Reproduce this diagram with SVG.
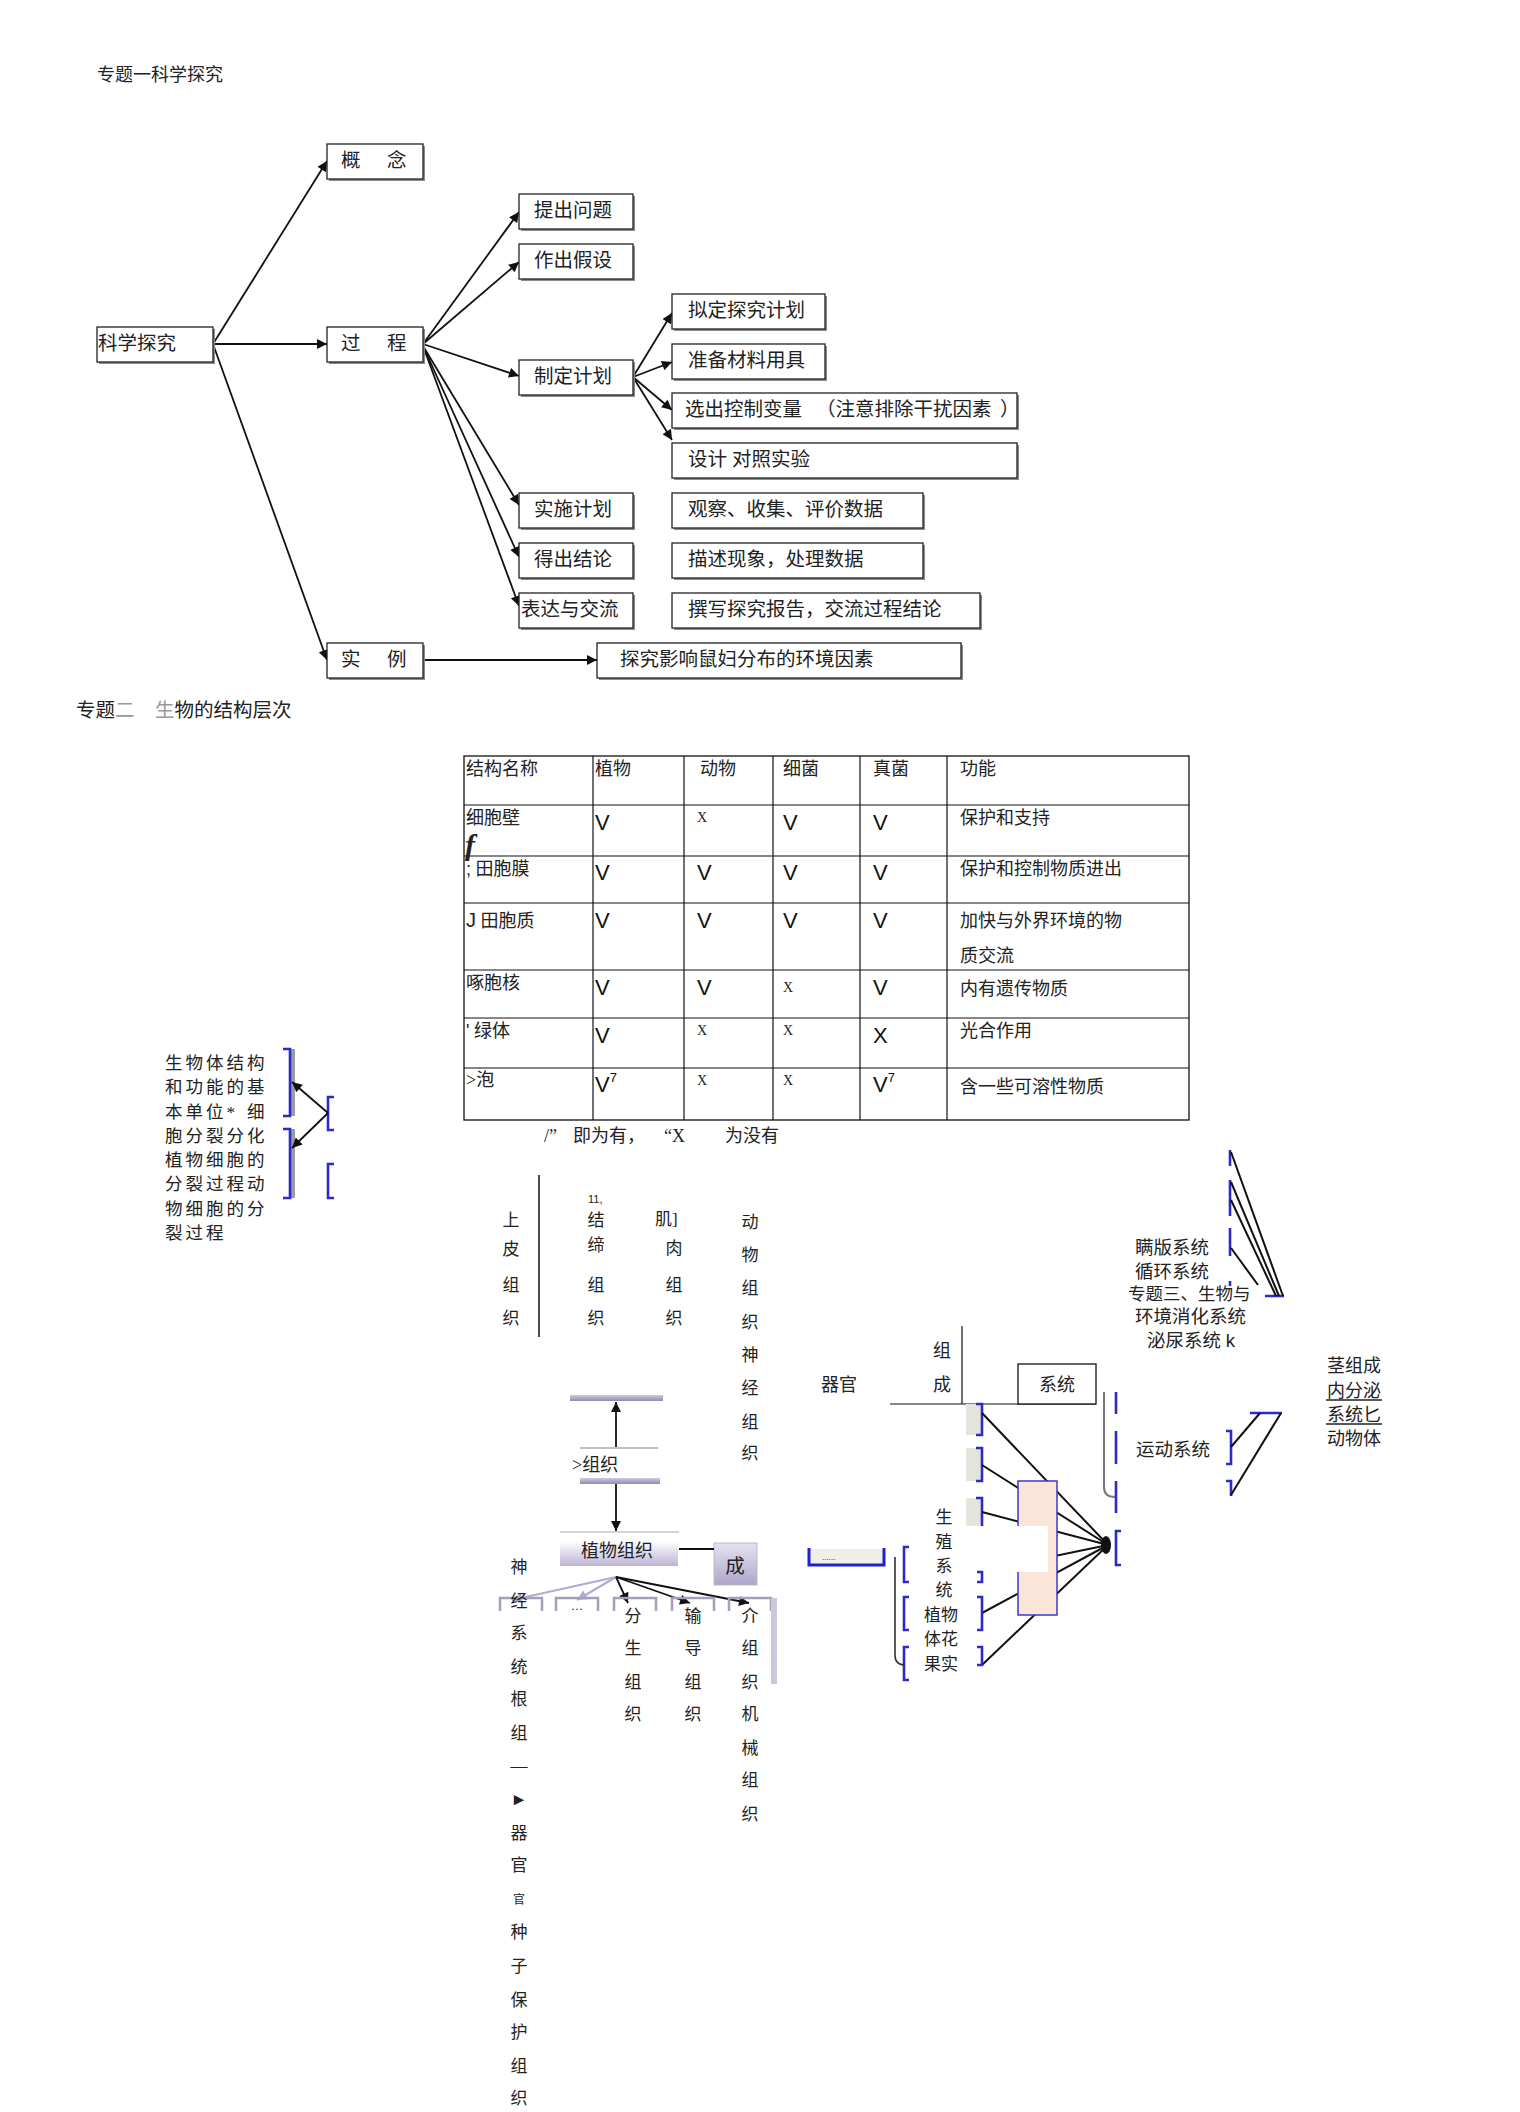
<svg xmlns="http://www.w3.org/2000/svg" width="1520" height="2112" viewBox="0 0 1520 2112">
<style>
text{font-family:"Liberation Serif","Noto Sans CJK SC",serif;fill:#222}
.f19{font-size:19.5px}
.f18{font-size:18px}
.f17{font-size:17px}
.c{text-anchor:middle}
.sans{font-family:"Liberation Sans","Noto Sans CJK SC",sans-serif}
.v{font-family:"Liberation Sans",sans-serif;font-size:22px;fill:#111}
.x{font-family:"Liberation Serif",serif;font-size:14px}
.bx{fill:#fff;stroke:#222;stroke-width:1.3}
.sh{fill:#8c8c8c}
.ln{stroke:#111;stroke-width:1.8;fill:none}
.tl{stroke:#111;stroke-width:1.2;fill:none}
.bl{stroke:#2b2bc8;stroke-width:2.6;fill:none}
.hub{stroke:#111;stroke-width:2;fill:none}
.ob{stroke:#a69fbb;stroke-width:2.5;fill:none}
</style>
<defs>
<marker id="ah" viewBox="0 0 10 10" refX="10" refY="5" markerUnits="userSpaceOnUse" markerWidth="13" markerHeight="10" orient="auto"><path d="M0,0L10,5L0,10z" fill="#111"/></marker>
<marker id="ahp" viewBox="0 0 10 10" refX="10" refY="5" markerUnits="userSpaceOnUse" markerWidth="13" markerHeight="10" orient="auto"><path d="M0,0L10,5L0,10z" fill="#b3a9d3"/></marker>
<linearGradient id="pg" x1="0" y1="0" x2="0" y2="1"><stop offset="0" stop-color="#ffffff"/><stop offset="1" stop-color="#bdb4d6"/></linearGradient>
<linearGradient id="cg" x1="0" y1="0" x2="0" y2="1"><stop offset="0" stop-color="#e6e2f0"/><stop offset="1" stop-color="#aea6ca"/></linearGradient>
<linearGradient id="bar" x1="0" y1="0" x2="0" y2="1"><stop offset="0" stop-color="#cfc9df"/><stop offset="1" stop-color="#938ab2"/></linearGradient>
</defs>

<!-- Section 1 -->
<text class="f18" x="97" y="81">专题一科学探究</text>

<g id="connectors-1" class="ln">
<line x1="213" y1="344" x2="327" y2="161" marker-end="url(#ah)"/>
<line x1="213" y1="344" x2="327" y2="344" marker-end="url(#ah)"/>
<line x1="213" y1="344" x2="327" y2="660" marker-end="url(#ah)"/>
<line x1="423" y1="344" x2="519" y2="212" marker-end="url(#ah)"/>
<line x1="423" y1="344" x2="519" y2="262" marker-end="url(#ah)"/>
<line x1="423" y1="344" x2="519" y2="376" marker-end="url(#ah)"/>
<line x1="423" y1="346" x2="519" y2="505" marker-end="url(#ah)"/>
<line x1="423" y1="346" x2="519" y2="557" marker-end="url(#ah)"/>
<line x1="423" y1="346" x2="519" y2="606" marker-end="url(#ah)"/>
<line x1="633" y1="377" x2="672" y2="313" marker-end="url(#ah)"/>
<line x1="633" y1="377" x2="672" y2="362" marker-end="url(#ah)"/>
<line x1="633" y1="377" x2="672" y2="410" marker-end="url(#ah)"/>
<line x1="633" y1="377" x2="672" y2="440" marker-end="url(#ah)"/>
<line x1="423" y1="660" x2="597" y2="660" marker-end="url(#ah)"/>
</g>

<g id="n-kxtj"><rect class="sh" x="99" y="329" width="116" height="35"/><rect class="bx" x="97" y="327" width="116" height="35"/><text class="f19" x="98" y="350">科学探究</text></g>
<g id="n-gn"><rect class="sh" x="329" y="146" width="96" height="35"/><rect class="bx" x="327" y="144" width="96" height="35"/><text class="f19" x="341" y="167">概<tspan x="387">念</tspan></text></g>
<g id="n-gc"><rect class="sh" x="329" y="329" width="96" height="35"/><rect class="bx" x="327" y="327" width="96" height="35"/><text class="f19" x="341" y="350">过<tspan x="387">程</tspan></text></g>
<g id="n-sl"><rect class="sh" x="329" y="645" width="96" height="35"/><rect class="bx" x="327" y="643" width="96" height="35"/><text class="f19" x="341" y="666">实<tspan x="387">例</tspan></text></g>
<g id="n-tcwt"><rect class="sh" x="521" y="196" width="114" height="35"/><rect class="bx" x="519" y="194" width="114" height="35"/><text class="f19" x="534" y="217">提出问题</text></g>
<g id="n-zcjs"><rect class="sh" x="521" y="246" width="114" height="35"/><rect class="bx" x="519" y="244" width="114" height="35"/><text class="f19" x="534" y="267">作出假设</text></g>
<g id="n-zdjh"><rect class="sh" x="521" y="362" width="114" height="35"/><rect class="bx" x="519" y="360" width="114" height="35"/><text class="f19" x="534" y="383">制定计划</text></g>
<g id="n-ssjh"><rect class="sh" x="521" y="495" width="114" height="35"/><rect class="bx" x="519" y="493" width="114" height="35"/><text class="f19" x="534" y="516">实施计划</text></g>
<g id="n-dcjl"><rect class="sh" x="521" y="545" width="114" height="35"/><rect class="bx" x="519" y="543" width="114" height="35"/><text class="f19" x="534" y="566">得出结论</text></g>
<g id="n-bdyjl"><rect class="sh" x="521" y="595" width="114" height="35"/><rect class="bx" x="519" y="593" width="114" height="35"/><text class="f19" x="521" y="616">表达与交流</text></g>
<g id="n-ndjh"><rect class="sh" x="674" y="296" width="153" height="35"/><rect class="bx" x="672" y="294" width="153" height="35"/><text class="f19" x="688" y="317">拟定探究计划</text></g>
<g id="n-zbcl"><rect class="sh" x="674" y="346" width="153" height="35"/><rect class="bx" x="672" y="344" width="153" height="35"/><text class="f19" x="688" y="367">准备材料用具</text></g>
<g id="n-xckz"><rect class="sh" x="674" y="395" width="345" height="35"/><rect class="bx" x="672" y="393" width="345" height="35"/><text class="f19" x="685" y="416">选出控制变量<tspan x="816">（注意排除干扰因素</tspan><tspan x="1000">）</tspan></text></g>
<g id="n-sjdz"><rect class="sh" x="674" y="445" width="345" height="35"/><rect class="bx" x="672" y="443" width="345" height="35"/><text class="f19" x="688" y="466">设计 对照实验</text></g>
<g id="n-gcsj"><rect class="sh" x="674" y="495" width="251" height="35"/><rect class="bx" x="672" y="493" width="251" height="35"/><text class="f19" x="688" y="516">观察、收集、评价数据</text></g>
<g id="n-msxx"><rect class="sh" x="674" y="545" width="251" height="35"/><rect class="bx" x="672" y="543" width="251" height="35"/><text class="f19" x="688" y="566">描述现象，处理数据</text></g>
<g id="n-zxbg"><rect class="sh" x="674" y="595" width="308" height="35"/><rect class="bx" x="672" y="593" width="308" height="35"/><text class="f19" x="688" y="616">撰写探究报告，交流过程结论</text></g>
<g id="n-tjyx"><rect class="sh" x="599" y="645" width="364" height="35"/><rect class="bx" x="597" y="643" width="364" height="35"/><text class="f19" x="620" y="666">探究影响鼠妇分布的环境因素</text></g>

<!-- Section 2 header -->
<text class="f19" x="76" y="717">专题<tspan fill="#999">二</tspan><tspan x="155" fill="#999">生</tspan>物的结构层次</text>

<!-- Table -->
<g id="table">
<rect x="464" y="756" width="725" height="364" fill="none" stroke="#111" stroke-width="1.3"/>
<g class="tl">
<line x1="593" y1="756" x2="593" y2="1120"/>
<line x1="684" y1="756" x2="684" y2="1120"/>
<line x1="773" y1="756" x2="773" y2="1120"/>
<line x1="860" y1="756" x2="860" y2="1120"/>
<line x1="947" y1="756" x2="947" y2="1120"/>
<line x1="464" y1="805" x2="1189" y2="805"/>
<line x1="464" y1="856" x2="1189" y2="856"/>
<line x1="464" y1="903" x2="1189" y2="903"/>
<line x1="464" y1="970" x2="1189" y2="970"/>
<line x1="464" y1="1018" x2="1189" y2="1018"/>
<line x1="464" y1="1068" x2="1189" y2="1068"/>
</g>
<g class="f18">
<text x="466" y="775">结构名称</text><text x="595" y="775">植物</text><text x="700" y="775">动物</text><text x="783" y="775">细菌</text><text x="873" y="775">真菌</text><text x="960" y="775">功能</text>
<text x="466" y="824">细胞壁</text>
<text x="466" y="875"><tspan class="sans">;</tspan> 田胞膜</text>
<text x="466" y="927"><tspan class="sans" font-size="20">J</tspan> 田胞质</text>
<text x="466" y="989">啄胞核</text>
<text x="466" y="1037"><tspan class="sans">'</tspan> 绿体</text>
<text x="466" y="1086">&gt;泡</text>
<text x="960" y="824">保护和支持</text>
<text x="960" y="875">保护和控制物质进出</text>
<text x="960" y="927">加快与外界环境的物</text>
<text x="960" y="962">质交流</text>
<text x="960" y="995">内有遗传物质</text>
<text x="960" y="1037">光合作用</text>
<text x="960" y="1093">含一些可溶性物质</text>
</g>
<text x="465" y="855" font-family="Liberation Sans,sans-serif" font-style="italic" font-weight="bold" font-size="30" fill="#111">f</text>
<g>
<text class="v" x="595" y="830">V</text><text class="x" x="697" y="822">X</text><text class="v" x="783" y="830">V</text><text class="v" x="873" y="830">V</text>
<text class="v" x="595" y="880">V</text><text class="v" x="697" y="880">V</text><text class="v" x="783" y="880">V</text><text class="v" x="873" y="880">V</text>
<text class="v" x="595" y="928">V</text><text class="v" x="697" y="928">V</text><text class="v" x="783" y="928">V</text><text class="v" x="873" y="928">V</text>
<text class="v" x="595" y="995">V</text><text class="v" x="697" y="995">V</text><text class="x" x="783" y="992">X</text><text class="v" x="873" y="995">V</text>
<text class="v" x="595" y="1043">V</text><text class="x" x="697" y="1035">X</text><text class="x" x="783" y="1035">X</text><text class="v" x="873" y="1043">X</text>
<text class="v" x="595" y="1092">V<tspan font-size="13" dy="-10">7</tspan></text><text class="x" x="697" y="1085">X</text><text class="x" x="783" y="1085">X</text><text class="v" x="873" y="1092">V<tspan font-size="13" dy="-10">7</tspan></text>
</g>
</g>
<text class="f18" x="544" y="1142">/”<tspan x="573">即为有，</tspan><tspan x="664">“X</tspan><tspan x="725">为没有</tspan></text>

<!-- Left cell block -->
<g id="cell-text" style="font-family:'Noto Sans CJK SC',sans-serif;font-size:17.5px">
<text x="165 185.5 206 226.5 247" y="1069">生物体结构</text>
<text x="165 185.5 206 226.5 247" y="1093">和功能的基</text>
<text x="165 185.5 206 226.5 247" y="1118">本单位*细</text>
<text x="165 185.5 206 226.5 247" y="1142">胞分裂分化</text>
<text x="165 185.5 206 226.5 247" y="1166">植物细胞的</text>
<text x="165 185.5 206 226.5 247" y="1190">分裂过程动</text>
<text x="165 185.5 206 226.5 247" y="1215">物细胞的分</text>
<text x="165 185.5 206" y="1239">裂过程</text>
</g>
<g id="cell-brackets">
<rect x="290" y="1049" width="5" height="67" fill="#9a9aa8"/>
<rect x="290" y="1129" width="5" height="69" fill="#9a9aa8"/>
<path class="bl" d="M283,1049H290V1116H283M283,1129H290V1198H283M334,1097H328V1130H334M334,1164H328V1198H334" stroke-width="2"/>
</g>
<g id="cell-arrows" class="ln">
<line x1="328" y1="1113" x2="292" y2="1082" marker-end="url(#ah)"/>
<line x1="328" y1="1113" x2="292" y2="1148" marker-end="url(#ah)"/>
</g>

<!-- Animal tissues -->
<g id="animal-tissue" class="f17">
<line x1="539" y1="1175" x2="539" y2="1337" stroke="#111" stroke-width="1.5"/>
<text class="c" x="511" y="1226">上</text><text class="c" x="511" y="1255">皮</text><text class="c" x="511" y="1291">组</text><text class="c" x="511" y="1324">织</text>
<text class="sans" x="588" y="1203" font-size="11">11,</text>
<text class="c" x="596" y="1226">结</text><text class="c" x="596" y="1251">缔</text><text class="c" x="596" y="1291">组</text><text class="c" x="596" y="1324">织</text>
<text x="655" y="1225">肌]</text><text class="c" x="674" y="1254">肉</text><text class="c" x="674" y="1291">组</text><text class="c" x="674" y="1324">织</text>
<text class="c" x="750" y="1228">动</text><text class="c" x="750" y="1261">物</text><text class="c" x="750" y="1294">组</text><text class="c" x="750" y="1328">织</text><text class="c" x="750" y="1361">神</text><text class="c" x="750" y="1394">经</text><text class="c" x="750" y="1428">组</text><text class="c" x="750" y="1459">织</text>
</g>

<!-- Tissue ladder -->
<g id="ladder">
<rect x="570" y="1395" width="93" height="6" fill="url(#bar)"/>
<line x1="580" y1="1448" x2="658" y2="1448" stroke="#aaa" stroke-width="1.5"/>
<text class="f18" x="572" y="1471">&gt;组织</text>
<rect x="580" y="1478" width="80" height="6" fill="url(#bar)"/>
<line class="ln" x1="616" y1="1447" x2="616" y2="1402" marker-end="url(#ah)"/>
<line class="ln" x1="616" y1="1484" x2="616" y2="1531" marker-end="url(#ah)"/>
</g>
<g id="n-zwzz">
<line x1="560" y1="1532" x2="679" y2="1532" stroke="#aaa" stroke-width="1.2"/>
<rect x="560" y="1541" width="118" height="25" fill="url(#pg)"/>
<text class="f18 c" x="617" y="1557">植物组织</text>
</g>
<g id="n-cheng">
<rect x="714" y="1543" width="43" height="42" fill="url(#cg)" stroke="#bbb"/>
<text class="f19 c" x="735" y="1573">成</text>
</g>
<g id="plant-connectors">
<line x1="679" y1="1549" x2="714" y2="1549" stroke="#111" stroke-width="2"/>
<line x1="616" y1="1577" x2="512" y2="1600" stroke="#b3a9d3" stroke-width="2.2" marker-end="url(#ahp)"/>
<line x1="616" y1="1577" x2="577" y2="1600" stroke="#b3a9d3" stroke-width="2.2" marker-end="url(#ahp)"/>
<line class="ln" x1="616" y1="1577" x2="628" y2="1603" marker-end="url(#ah)"/>
<line class="ln" x1="616" y1="1577" x2="690" y2="1603" marker-end="url(#ah)"/>
<line class="ln" x1="616" y1="1577" x2="749" y2="1603" marker-end="url(#ah)"/>
</g>
<g id="tissue-boxes">
<path class="ob" d="M500,1611V1598H542V1611M556,1611V1598H598V1611M614,1611V1598H656V1611M672,1611V1598H714V1611M729,1611V1598H771V1611"/>
<rect x="771" y="1598" width="6" height="86" fill="#cdc6de"/>
<text class="c" x="577" y="1610" font-size="12">…</text>
</g>
<g id="plant-columns" class="f17">
<text class="c" x="519" y="1573">神</text><text class="c" x="519" y="1607">经</text><text class="c" x="519" y="1639">系</text><text class="c" x="519" y="1673">统</text><text class="c" x="519" y="1705">根</text><text class="c" x="519" y="1739">组</text><text class="c" x="519" y="1771">—</text><text class="c" x="519" y="1805" font-family="DejaVu Sans,sans-serif" font-size="17">►</text><text class="c" x="519" y="1839">器</text><text class="c" x="519" y="1871">官</text><text class="c" x="519" y="1904" font-size="12">官</text><text class="c" x="519" y="1938">种</text><text class="c" x="519" y="1972">子</text><text class="c" x="519" y="2006">保</text><text class="c" x="519" y="2038">护</text><text class="c" x="519" y="2072">组</text><text class="c" x="519" y="2104">织</text>
<text class="c" x="633" y="1622">分</text><text class="c" x="633" y="1654">生</text><text class="c" x="633" y="1688">组</text><text class="c" x="633" y="1720">织</text>
<text class="c" x="693" y="1622">输</text><text class="c" x="693" y="1654">导</text><text class="c" x="693" y="1688">组</text><text class="c" x="693" y="1720">织</text>
<text class="c" x="750" y="1622">介</text><text class="c" x="750" y="1654">组</text><text class="c" x="750" y="1688">织</text><text class="c" x="750" y="1720">机</text><text class="c" x="750" y="1754">械</text><text class="c" x="750" y="1786">组</text><text class="c" x="750" y="1820">织</text>
</g>

<!-- Organ / system -->
<g id="organ">
<text class="f18" x="821" y="1391">器官</text>
<text class="f18 c" x="942" y="1357">组</text><text class="f18 c" x="942" y="1391">成</text>
<path class="tl" d="M962,1326V1404M890,1404H1096" stroke-width="1.5"/>
</g>
<g id="n-xitong"><rect x="1018" y="1364" width="78" height="40" fill="#fff" stroke="#111" stroke-width="1.3"/><text class="f18 c" x="1057" y="1391">系统</text></g>

<g id="organ-hub">
<rect x="966" y="1404" width="16" height="31" fill="#e5e4dc"/>
<rect x="966" y="1448" width="16" height="33" fill="#e5e4dc"/>
<rect x="966" y="1498" width="16" height="28" fill="#e5e4dc"/>
<path class="bl" d="M976,1404H982V1435H976M976,1448H982V1481H976M976,1498H982V1526"/>
<g class="hub">
<line x1="982" y1="1413" x2="1108" y2="1545"/>
<line x1="982" y1="1465" x2="1108" y2="1545"/>
<line x1="982" y1="1512" x2="1108" y2="1545"/>
<line x1="982" y1="1571" x2="1108" y2="1545"/>
<line x1="982" y1="1613" x2="1108" y2="1545"/>
<line x1="982" y1="1665" x2="1108" y2="1545"/>
</g>
<rect x="1018" y="1481" width="39" height="134" fill="#fbe5d9" stroke="#3a3ad0" stroke-width="1.5"/>
<rect x="968" y="1526" width="80" height="46" fill="#fff"/>
<ellipse cx="1106" cy="1545" rx="5" ry="9" fill="#111"/>
<path class="bl" d="M977,1572H982V1582H977M977,1597H982V1630H977M977,1647H982V1665H977M909,1547H904V1582H909M909,1597H904V1630H909M909,1647H904V1680H909"/>
<path d="M895,1557V1655Q895,1665 905,1665" fill="none" stroke="#333" stroke-width="1.6"/>
<rect x="808" y="1549" width="77" height="16" fill="#efeee7"/>
<path d="M809,1548V1565H884V1548" fill="none" stroke="#2020d0" stroke-width="3"/>
<text x="822" y="1560" font-size="9">......</text>
<path class="bl" d="M1121,1531H1116V1565H1121M1116,1392V1414M1116,1431V1464M1116,1481V1513"/>
<path d="M1104,1392V1487Q1104,1497 1115,1497" fill="none" stroke="#777" stroke-width="2"/>
</g>
<g id="plant-organ-text" class="f17">
<text class="c" x="944" y="1523">生</text><text class="c" x="944" y="1548">殖</text><text class="c" x="944" y="1572">系</text><text class="c" x="944" y="1596">统</text>
<text x="924" y="1621">植物</text><text x="924" y="1645">体花</text><text x="924" y="1670">果实</text>
</g>

<!-- Animal systems -->
<g id="systems-top">
<path class="bl" d="M1230,1150V1166M1230,1180V1216M1230,1228V1256M1230,1281V1286M1265,1296H1284"/>
<g class="hub">
<line x1="1231" y1="1152" x2="1283" y2="1296"/>
<line x1="1231" y1="1182" x2="1279" y2="1296"/>
<line x1="1231" y1="1200" x2="1276" y2="1296"/>
<line x1="1231" y1="1248" x2="1258" y2="1285"/>
</g>
<text x="1135" y="1254" font-size="18.5">瞒版系统</text>
<text x="1135" y="1278" font-size="18.5">循环系统</text>
<text x="1128" y="1300" font-size="17.5">专题三、生物与</text>
<text x="1135" y="1323" font-size="18.5">环境消化系统</text>
<text x="1147" y="1347" font-size="18.5">泌尿系统 <tspan class="sans">k</tspan></text>
</g>
<g id="systems-motion">
<text x="1136" y="1456" font-size="18.5">运动系统</text>
<path class="bl" d="M1226,1431H1231V1464H1226M1226,1481H1231V1496M1250,1413H1282"/>
<g class="hub">
<line x1="1231" y1="1447" x2="1260" y2="1413"/>
<line x1="1231" y1="1495" x2="1281" y2="1413"/>
</g>
</g>
<g id="animal-body" class="f18">
<text x="1327" y="1372">茎组成</text>
<text x="1327" y="1397">内分泌</text>
<text x="1327" y="1421">系统匕</text>
<text x="1327" y="1445">动物体</text>
<path d="M1326,1400H1382M1326,1424H1382" stroke="#222" stroke-width="1.3"/>
</g>
</svg>
